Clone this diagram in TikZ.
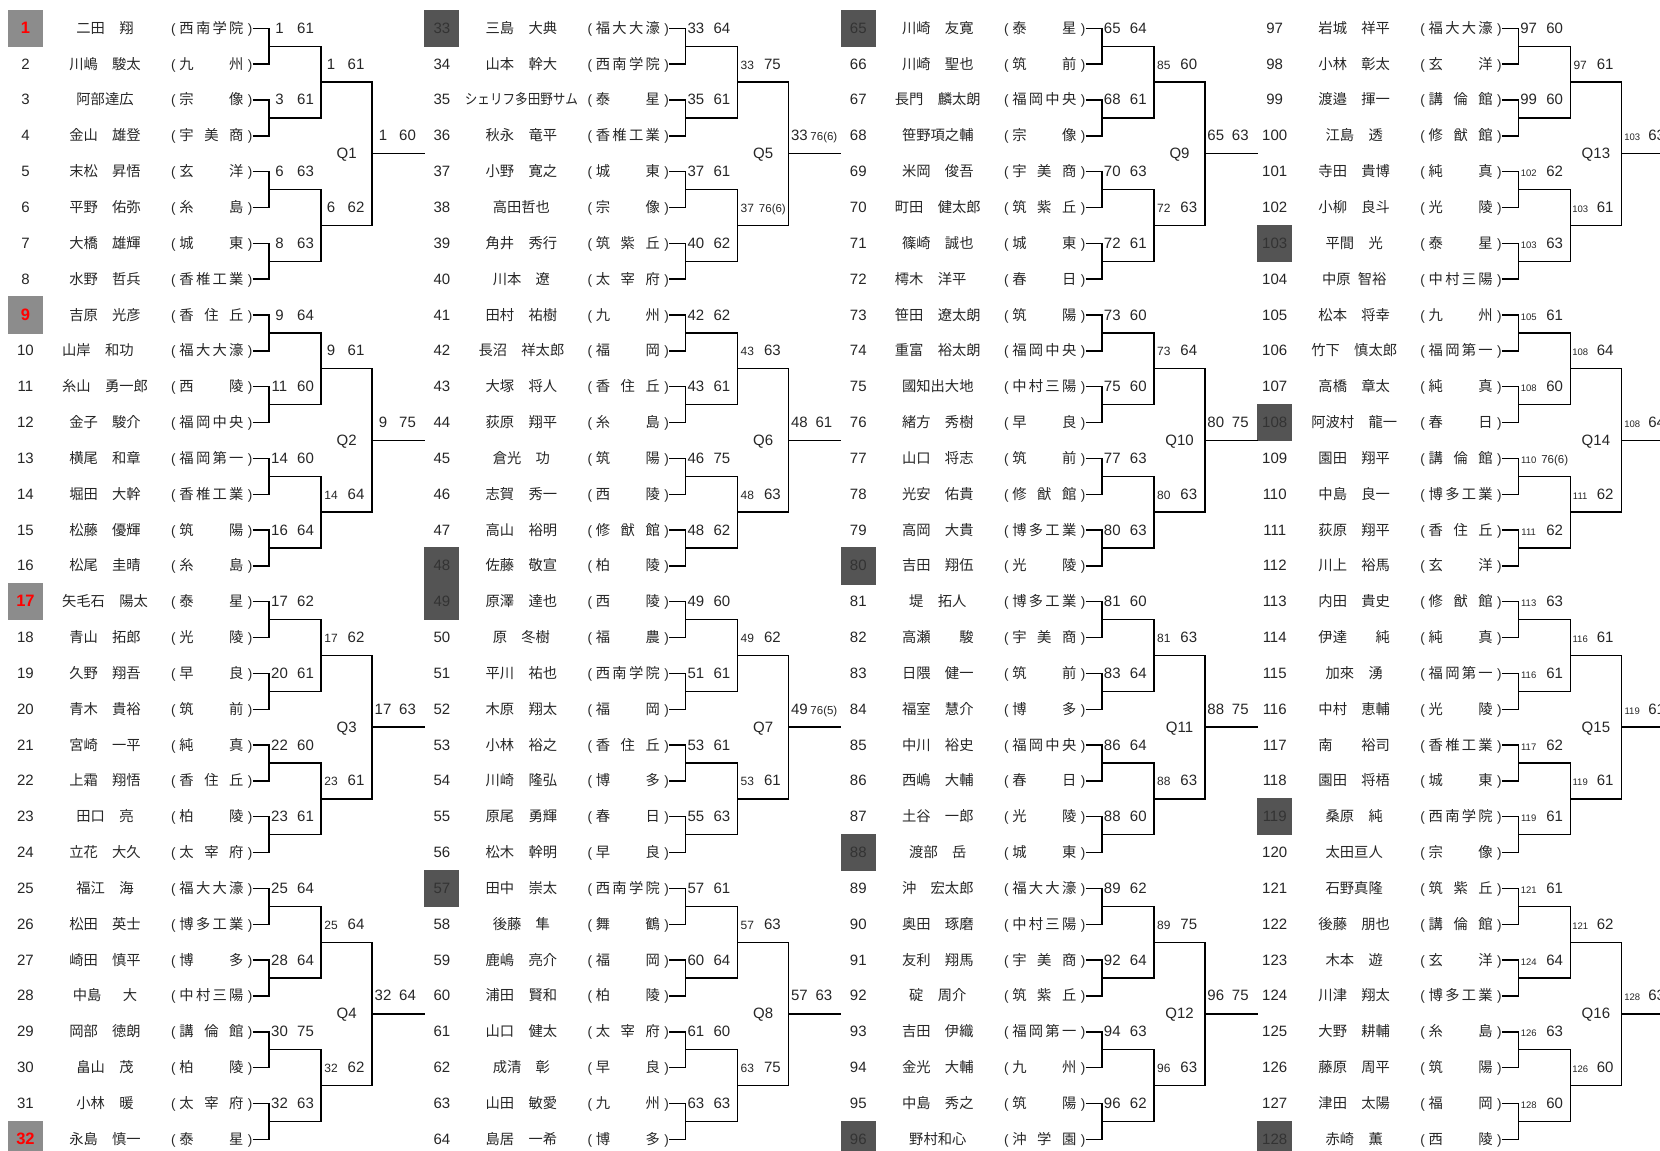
\documentclass[tikz,border=0pt]{standalone}
\usepackage{fontspec}
\setmainfont{Liberation Sans}
\newfontfamily\jp{Noto Sans CJK JP}
\usepackage{graphicx}

\newcommand\jpsize{\jp\fontsize{14.3}{15}\selectfont}
\newcommand\school[1]{(\kern3.8pt\makebox[64pt][s]{\jpsize\spaceskip=0pt plus 1fil\relax #1}\kern4.5pt)}
\newcommand\tiebrk[1]{{\fontsize{11.5}{12}\selectfont #1}}

\begin{document}
\begin{tikzpicture}[
        x=1pt, y=-1pt,
        every node/.style={inner sep=0pt, text height=11pt, text depth=1pt, text=black!85},
        entrybox/.style={minimum width=35pt, minimum height=37.4pt, font=\fontsize{15}{16}\selectfont},
        player/.style={font=\jpsize},
        club/.style={anchor=west, font=\fontsize{13.5}{15}\selectfont},
        wins/.style={font=\fontsize{15}{16}\selectfont},
        qual/.style={font=\fontsize{15}{16}\selectfont},
        topseed/.style={fill=black!45, text=red, font=\fontsize{16.5}{17}\selectfont\bfseries},
        darkseed/.style={fill=black!67, text=black!80},
        seed1/.style=topseed, seed9/.style=topseed, seed17/.style=topseed, seed32/.style=topseed,
        seed33/.style=darkseed, seed48/.style=darkseed, seed49/.style=darkseed, seed57/.style=darkseed,
        seed65/.style=darkseed, seed80/.style=darkseed, seed88/.style=darkseed, seed96/.style=darkseed,
        seed103/.style=darkseed, seed108/.style=darkseed, seed119/.style=darkseed, seed128/.style=darkseed,
        bracket/.style={line width=1.4pt, draw=black}
    ]
        \useasboundingbox (0,0) rectangle (1660,1151);
        \clip (0,0) rectangle (1660,1151);

        % Players: number, name, school
        \foreach \i/\nm/\schl in {
            1/二田　翔/西 南 学 院, 2/川嶋　駿太/九 州, 3/阿部達広/宗 像, 4/金山　雄登/宇 美 商,
            5/末松　昇悟/玄 洋, 6/平野　佑弥/糸 島, 7/大橋　雄輝/城 東, 8/水野　哲兵/香 椎 工 業,
            9/吉原　光彦/香 住 丘, 10/山岸　和功　/福 大 大 濠, 11/糸山　勇一郎/西 陵, 12/金子　駿介/福 岡 中 央,
            13/横尾　和章/福 岡 第 一, 14/堀田　大幹/香 椎 工 業, 15/松藤　優輝/筑 陽, 16/松尾　圭晴/糸 島,
            17/矢毛石　陽太/泰 星, 18/青山　拓郎/光 陵, 19/久野　翔吾/早 良, 20/青木　貴裕/筑 前,
            21/宮崎　一平/純 真, 22/上霜　翔悟/香 住 丘, 23/田口　亮/柏 陵, 24/立花　大久/太 宰 府,
            25/福江　海/福 大 大 濠, 26/松田　英士/博 多 工 業, 27/崎田　慎平/博 多, 28/中島　\enspace 大/中 村 三 陽,
            29/岡部　徳朗/講 倫 館, 30/畠山　茂/柏 陵, 31/小林　暖/太 宰 府, 32/永島　慎一/泰 星,
            33/三島　大典/福 大 大 濠, 34/山本　幹大/西 南 学 院, 35/\scalebox{0.88}[1]{シェリフ多田野サム}/泰 星, 36/秋永　竜平/香 椎 工 業,
            37/小野　寛之/城 東, 38/高田哲也/宗 像, 39/角井　秀行/筑 紫 丘, 40/川本　遼/太 宰 府,
            41/田村　祐樹/九 州, 42/長沼　祥太郎/福 岡, 43/大塚　将人/香 住 丘, 44/荻原　翔平/糸 島,
            45/倉光　功/筑 陽, 46/志賀　秀一/西 陵, 47/高山　裕明/修 猷 館, 48/佐藤　敬宣/柏 陵,
            49/原澤　達也/西 陵, 50/原　冬樹/福 農, 51/平川　祐也/西 南 学 院, 52/木原　翔太/福 岡,
            53/小林　裕之/香 住 丘, 54/川崎　隆弘/博 多, 55/原尾　勇輝/春 日, 56/松木　幹明/早 良,
            57/田中　崇太/西 南 学 院, 58/後藤　隼/舞 鶴, 59/鹿嶋　亮介/福 岡, 60/浦田　賢和/柏 陵,
            61/山口　健太/太 宰 府, 62/成清　彰/早 良, 63/山田　敏愛/九 州, 64/島居　一希/博 多,
            65/川崎　友寛/泰 星, 66/川崎　聖也/筑 前, 67/長門　麟太朗/福 岡 中 央, 68/笹野項之輔/宗 像,
            69/米岡　俊吾/宇 美 商, 70/町田　健太郎/筑 紫 丘, 71/篠崎　誠也/城 東, 72/樗木　洋平　/春 日,
            73/笹田　遼太朗/筑 陽, 74/重富　裕太朗/福 岡 中 央, 75/國知出大地/中 村 三 陽, 76/緒方　秀樹/早 良,
            77/山口　将志/筑 前, 78/光安　佑貴/修 猷 館, 79/高岡　大貴/博 多 工 業, 80/吉田　翔伍/光 陵,
            81/堤　拓人/博 多 工 業, 82/高瀬　　駿/宇 美 商, 83/日隈　健一/筑 前, 84/福室　慧介/博 多,
            85/中川　裕史/福 岡 中 央, 86/西嶋　大輔/春 日, 87/土谷　一郎/光 陵, 88/渡部　岳/城 東,
            89/沖　宏太郎/福 大 大 濠, 90/奥田　琢磨/中 村 三 陽, 91/友利　翔馬/宇 美 商, 92/碇　周介/筑 紫 丘,
            93/吉田　伊織/福 岡 第 一, 94/金光　大輔/九 州, 95/中島　秀之/筑 陽, 96/野村和心/沖 学 園,
            97/岩城　祥平/福 大 大 濠, 98/小林　彰太/玄 洋, 99/渡邉　揮一/講 倫 館, 100/江島　透/修 猷 館,
            101/寺田　貴博/純 真, 102/小柳　良斗/光 陵, 103/平間　光/泰 星, 104/中原\enspace 智裕/中 村 三 陽,
            105/松本　将幸/九 州, 106/竹下　慎太郎/福 岡 第 一, 107/高橋　章太/純 真, 108/阿波村　龍一/春 日,
            109/園田　翔平/講 倫 館, 110/中島　良一/博 多 工 業, 111/荻原　翔平/香 住 丘, 112/川上　裕馬/玄 洋,
            113/内田　貴史/修 猷 館, 114/伊達　　純/純 真, 115/加來　湧/福 岡 第 一, 116/中村　恵輔/光 陵,
            117/南　　裕司/香 椎 工 業, 118/園田　将梧/城 東, 119/桑原　純/西 南 学 院, 120/太田亘人/宗 像,
            121/石野真隆/筑 紫 丘, 122/後藤　朋也/講 倫 館, 123/木本　遊/玄 洋, 124/川津　翔太/博 多 工 業,
            125/大野　耕輔/糸 島, 126/藤原　周平/筑 陽, 127/津田　太陽/福 岡, 128/赤崎　薫/西 陵}{
            \pgfmathtruncatemacro\col{(\i-1)/32}
            \pgfmathsetmacro\colx{416.4*\col}
            \pgfmathsetmacro\rowy{28.3+35.84*(\i-1-32*\col)}
            \node[entrybox, seed\i/.try] (num\i) at (\colx+25.5,\rowy) {\i};
            \node[player] (name\i) at (\colx+105,\rowy) {\nm};
            \node[club] (sch\i) at (\colx+171,\rowy) {\school{\schl}};
        }

        % First round
        \foreach \k/\win/\sco in {
            1/1/61, 2/3/61, 3/6/63, 4/8/63, 5/9/64, 6/11/60, 7/14/60, 8/16/64,
            9/17/62, 10/20/61, 11/22/60, 12/23/61, 13/25/64, 14/28/64, 15/30/75, 16/32/63,
            17/33/64, 18/35/61, 19/37/61, 20/40/62, 21/42/62, 22/43/61, 23/46/75, 24/48/62,
            25/49/60, 26/51/61, 27/53/61, 28/55/63, 29/57/61, 30/60/64, 31/61/60, 32/63/63,
            33/65/64, 34/68/61, 35/70/63, 36/72/61, 37/73/60, 38/75/60, 39/77/63, 40/80/63,
            41/81/60, 42/83/64, 43/86/64, 44/88/60, 45/89/62, 46/92/64, 47/94/63, 48/96/62,
            49/97/60, 50/99/60, 51/102/62, 52/103/63, 53/105/61, 54/108/60, 55/110/\tiebrk{76(6)}, 56/111/62,
            57/113/63, 58/116/61, 59/117/62, 60/119/61, 61/121/61, 62/124/64, 63/126/63, 64/128/60}{
            \pgfmathtruncatemacro\col{(\k-1)/16}
            \pgfmathsetmacro\colx{416.4*\col}
            \pgfmathsetmacro\rowy{28.3+35.84*2*(\k-1-16*\col)}
            \pgfmathtruncatemacro\ptop{2*\k-1}
            \pgfmathtruncatemacro\pbot{2*\k}
            \pgfmathsetmacro\fsz{\win>99 ? 9.5 : 15}
            \coordinate (a\k) at (\colx+269,\rowy+17.92);
            \draw[bracket] (sch\ptop.east) -| (a\k);
            \draw[bracket] (sch\pbot.east) -| (a\k);
            \node[wins, font=\fontsize{\fsz}{\fsz}\selectfont] (aw\k) at (\colx+279.5,\rowy) {\win};
            \node[wins] (as\k) at (\colx+305.5,\rowy) {\sco};
        }

        % Second round
        \foreach \j/\win/\sco in {
            1/1/61, 2/6/62, 3/9/61, 4/14/64, 5/17/62, 6/23/61, 7/25/64, 8/32/62,
            9/33/75, 10/37/\tiebrk{76(6)}, 11/43/63, 12/48/63, 13/49/62, 14/53/61, 15/57/63, 16/63/75,
            17/85/60, 18/72/63, 19/73/64, 20/80/63, 21/81/63, 22/88/63, 23/89/75, 24/96/63,
            25/97/61, 26/103/61, 27/108/64, 28/111/62, 29/116/61, 30/119/61, 31/121/62, 32/126/60}{
            \pgfmathtruncatemacro\col{(\j-1)/8}
            \pgfmathsetmacro\colx{416.4*\col}
            \pgfmathsetmacro\rowy{28.3+35.84*(4*(\j-1-8*\col)+1)}
            \pgfmathtruncatemacro\ptop{2*\j-1}
            \pgfmathtruncatemacro\pbot{2*\j}
            \pgfmathsetmacro\fsz{\win>99 ? 9.5 : (\win>9 ? 12 : 15)}
            \coordinate (b\j) at (\colx+321,\rowy+17.92);
            \draw[bracket] (a\ptop) -| (b\j);
            \draw[bracket] (a\pbot) -| (b\j);
            \node[wins, font=\fontsize{\fsz}{\fsz}\selectfont] (bw\j) at (\colx+331,\rowy) {\win};
            \node[wins] (bs\j) at (\colx+356,\rowy) {\sco};
        }

        % Qualifying finals
        \foreach \q/\win/\sco in {
            1/1/60, 2/9/75, 3/17/63, 4/32/64, 5/33/\tiebrk{76(6)}, 6/48/61, 7/49/\tiebrk{76(5)}, 8/57/63,
            9/65/63, 10/80/75, 11/88/75, 12/96/75, 13/103/63, 14/108/64, 15/119/61, 16/128/63}{
            \pgfmathtruncatemacro\col{(\q-1)/4}
            \pgfmathsetmacro\colx{416.4*\col}
            \pgfmathsetmacro\rowy{28.3+35.84*(8*(\q-1-4*\col)+3)}
            \pgfmathtruncatemacro\ptop{2*\q-1}
            \pgfmathtruncatemacro\pbot{2*\q}
            \pgfmathsetmacro\fsz{\win>99 ? 9.5 : 15}
            \coordinate (c\q) at (\colx+372,\rowy+17.92);
            \coordinate (d\q) at (\colx+425,\rowy+17.92);
            \draw[bracket] (b\ptop) -| (c\q);
            \draw[bracket] (b\pbot) -| (c\q);
            \draw[bracket] (c\q) -- (d\q);
            \node[wins, font=\fontsize{\fsz}{\fsz}\selectfont] (cw\q) at (\colx+383,\rowy) {\win};
            \node[wins] (cs\q) at (\colx+407.5,\rowy) {\sco};
            \node[qual] (q\q) at (\colx+346.7,\rowy+17.92) {Q\q};
        }
    \end{tikzpicture}
\end{document}
